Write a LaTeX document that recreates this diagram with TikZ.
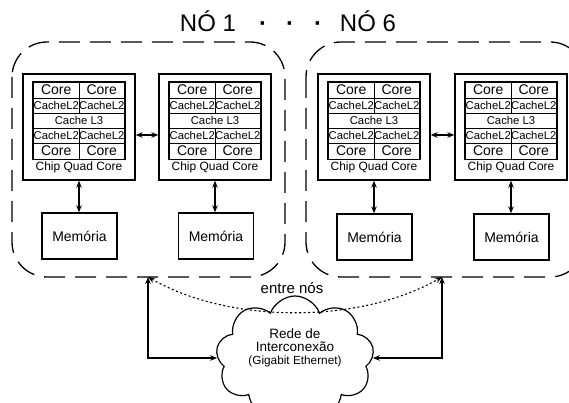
\documentclass[tikz,border=0pt]{standalone}
\usepackage{fontspec}
\setmainfont{Liberation Sans}
\usetikzlibrary{arrows.meta,shapes.symbols}
\newcommand{\fs}[1]{\fontsize{#1}{#1}\selectfont}
\tikzset{
  dblarr/.style={{Stealth[length=7pt,width=5.5pt]}-{Stealth[length=7pt,width=5.5pt]}, line width=1.2pt},
  chipbox/.style={draw, line width=1.3pt, minimum width=112pt, minimum height=106pt, inner sep=0pt},
  corecell/.style={draw, line width=0.9pt, minimum width=45.5pt, minimum height=16pt, inner sep=0pt, font=\fs{14}},
  l2cell/.style={draw, line width=0.9pt, minimum width=45.5pt, minimum height=15pt, inner sep=0pt, font=\fs{11.3}},
  l3cell/.style={draw, line width=0.9pt, minimum width=91pt, minimum height=15pt, inner sep=0pt, font=\fs{11.3}},
  membox/.style={draw, line width=1.3pt, minimum width=75pt, minimum height=46pt, inner sep=0pt, font=\fs{14}},
  nodebox/.style={draw, dash pattern=on 21pt off 10pt, line width=1.3pt, rounded corners=35pt},
  lbl/.style={inner sep=0pt, anchor=base},
  chip/.pic={
    \node[chipbox] (-box) at (0,0) {};
    \node[corecell] (-c1) at (-22.75,-37) {Core};
    \node[corecell] (-c2) at (22.75,-37) {Core};
    \node[l2cell] (-a1) at (-22.75,-21.5) {CacheL2};
    \node[l2cell] (-a2) at (22.75,-21.5) {CacheL2};
    \node[l3cell] (-l3) at (0,-6.5) {Cache L3};
    \node[l2cell] (-b1) at (-22.75,8.5) {CacheL2};
    \node[l2cell] (-b2) at (22.75,8.5) {CacheL2};
    \node[corecell] (-c3) at (-22.75,24) {Core};
    \node[corecell] (-c4) at (22.75,24) {Core};
    \draw[line width=1.5pt] (-c1.north west) rectangle (-c4.south east);
    \node[lbl, font=\fs{12}] (-lab) at (0,44) {Chip Quad Core};
  }
}
\begin{document}
\begin{tikzpicture}[x=1pt,y=-1pt]
\useasboundingbox (0,0) rectangle (569,403);
\clip (0,0) rectangle (569,403);
% title
\node[lbl, font=\fs{24}] (t1) at (208,32) {NÓ 1};
\node[lbl, font=\fs{24}\bfseries] (d1) at (263,32) {·};
\node[lbl, font=\fs{24}\bfseries] (d2) at (290,32) {·};
\node[lbl, font=\fs{24}\bfseries] (d3) at (318,32) {·};
\node[lbl, font=\fs{24}] (t6) at (368,32) {NÓ 6};
% dashed node boxes
\draw[nodebox] (12,42) rectangle (285,277);
\draw[nodebox] (306,42) rectangle (585,277);
% chips
\pic (p1) at (79,127) {chip};
\pic (p2) at (215,127) {chip};
\pic (p3) at (374,127) {chip};
\pic (p4) at (511,127) {chip};
% memories
\node[membox] (m1) at (79.5,236) {Memória};
\node[membox] (m2) at (216,236) {Memória};
\node[membox] (m3) at (374.5,237) {Memória};
\node[membox] (m4) at (511.5,237) {Memória};
% arrows
\draw[dblarr] (p1-box.east |- 0,135) -- (p2-box.west |- 0,135);
\draw[dblarr] (p3-box.east |- 0,135) -- (p4-box.west |- 0,135);
\draw[dblarr] (p1-box.south) -- (m1.north -| p1-box.south);
\draw[dblarr] (p2-box.south) -- (m2.north -| p2-box.south);
\draw[dblarr] (p3-box.south) -- (m3.north -| p3-box.south);
\draw[dblarr] (p4-box.south) -- (m4.north -| p4-box.south);
% cloud
\node[cloud, draw, line width=1.2pt, cloud puffs=9, cloud puff arc=140, cloud ignores aspect,
      minimum width=158pt, minimum height=124pt, align=center, inner sep=0pt, font=\fs{13.5}]
      (net) at (295,358) {Rede de\\[0pt]Interconexão\\[-1pt]{\fs{11.8}(Gigabit Ethernet)}\\[10pt]};
\coordinate (tl) at (148,277);
\coordinate (tr) at (442,277);
\draw[dblarr] (tl) |- (net.west);
\draw[dblarr] (tr) |- (net.east);
\draw[{Stealth[length=7pt,width=5.5pt]}-{Stealth[length=7pt,width=5.5pt]}, line width=1.1pt, dash pattern=on 2pt off 2.5pt]
  (tl) .. controls (230,324) and (360,324) .. (tr);
\node[lbl, font=\fs{15}] (en) at (292,293) {entre nós};
\end{tikzpicture}
\end{document}
